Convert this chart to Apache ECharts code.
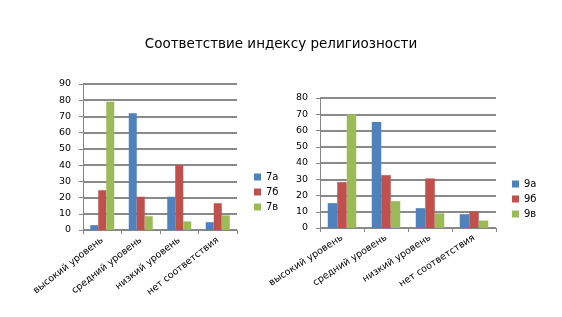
<!DOCTYPE html>
<html><head><meta charset="utf-8">
<script src="https://cdn.jsdelivr.net/npm/echarts@6/dist/echarts.min.js"></script>
<style>html,body{margin:0;padding:0;background:#fff}#c{width:562px;height:317px}</style>
</head><body><div id="c"></div>
<script>
const categories = ["высокий уровень", "средний уровень", "низкий уровень", "нет соответствия"];
const leftNames = ["7а", "7б", "7в"];
const left7a = [3, 72, 20.5, 4.8];
const left7b = [24.5, 20.5, 40, 16.5];
const left7v = [79, 8.5, 5.3, 9];
const rightNames = ["9а", "9б", "9в"];
const right9a = [15.3, 65.2, 12.2, 8.5];
const right9b = [28.2, 32.5, 30.5, 10.2];
const right9v = [70, 16.5, 9, 4.6];
const leftTicks = [0, 90, 10];
const rightTicks = [0, 80, 10];
const colors = ["#4F81BD", "#C0504D", "#9BBB59"];

const font = "DejaVu Sans";
function yAxis(gi, t) {
  return {type: 'value', gridIndex: gi, min: t[0], max: t[1], interval: t[2],
    axisLine: {show: true, lineStyle: {color: '#868686', width: 1}},
    axisTick: {show: true, length: 4, lineStyle: {color: '#868686'}},
    axisLabel: {fontSize: 9.5, color: '#000', margin: 12, fontFamily: font},
    splitLine: {lineStyle: {color: '#8a8a8a', width: 2}}};
}
function xAxis(gi, rot) {
  return {type: 'category', gridIndex: gi, data: categories,
    axisLine: {lineStyle: {color: '#868686', width: 1}},
    axisTick: {show: true, length: 4, lineStyle: {color: '#868686'}},
    axisLabel: {rotate: rot, fontSize: 9.5, color: '#000', margin: 9, interval: 0, fontFamily: font}};
}
function bar(name, data, i, gi, w) {
  return {type: 'bar', name: name, data: data, xAxisIndex: gi, yAxisIndex: gi,
    barWidth: w, barGap: '0%', itemStyle: {color: colors[i]}};
}
const chart = echarts.init(document.getElementById('c'), null, {renderer: 'canvas'});
chart.setOption({
  animation: false,
  title: {text: "Соответствие индексу религиозности", left: 'center', top: 32,
    textStyle: {fontSize: 13.5, fontWeight: 'normal', color: '#000', fontFamily: font}},
  grid: [
    {left: 83, top: 84, width: 154, height: 146, containLabel: false},
    {left: 320, top: 98, width: 176, height: 130, containLabel: false}
  ],
  xAxis: [xAxis(0, 38), xAxis(1, 33)],
  yAxis: [yAxis(0, leftTicks), yAxis(1, rightTicks)],
  legend: [
    {data: leftNames, orient: 'vertical', left: 249, top: 167, itemWidth: 7, itemHeight: 7, itemGap: 5,
      icon: 'rect', textStyle: {fontSize: 10, color: '#000', fontFamily: font}},
    {data: rightNames, orient: 'vertical', left: 507, top: 174, itemWidth: 7, itemHeight: 7, itemGap: 5,
      icon: 'rect', textStyle: {fontSize: 10, color: '#000', fontFamily: font}}
  ],
  series: [
    bar(leftNames[0], left7a, 0, 0, 8), bar(leftNames[1], left7b, 1, 0, 8), bar(leftNames[2], left7v, 2, 0, 8),
    bar(rightNames[0], right9a, 0, 1, 9.5), bar(rightNames[1], right9b, 1, 1, 9.5), bar(rightNames[2], right9v, 2, 1, 9.5)
  ]
});
</script></body></html>
